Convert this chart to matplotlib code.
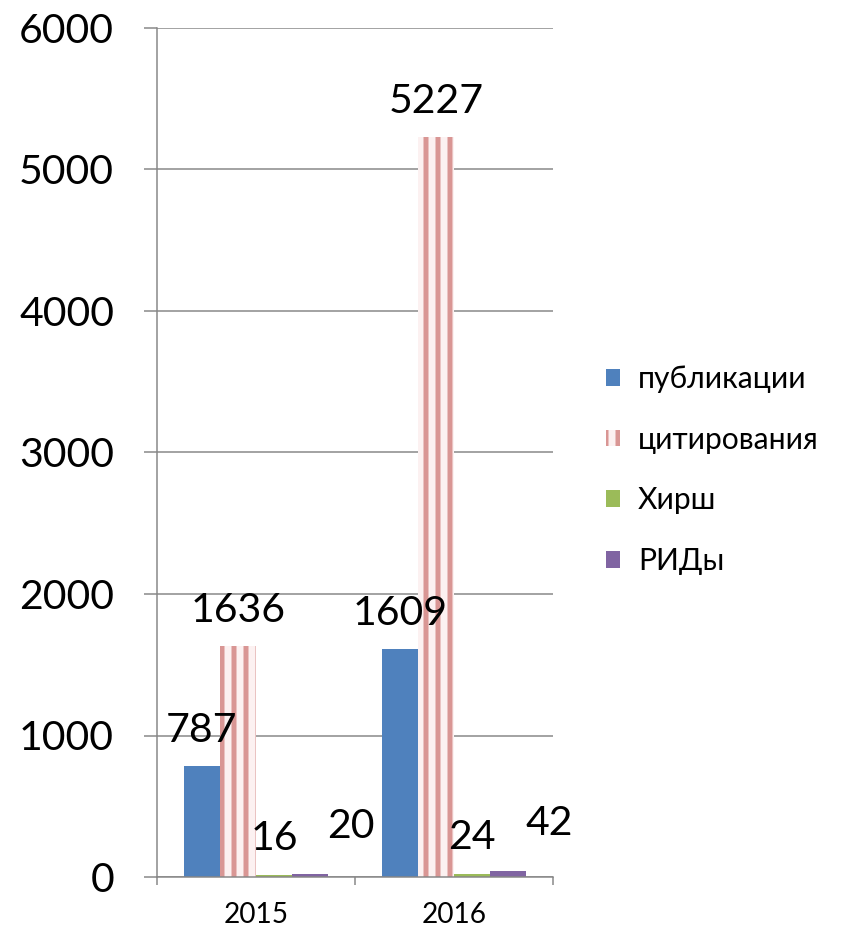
import numpy as np
import matplotlib
matplotlib.use('Agg')
import matplotlib.pyplot as plt

plt.rcParams['font.family'] = ['Lato', 'DejaVu Sans']
plt.rcParams['hatch.linewidth'] = 5

years = ['2015', '2016']
series = ['публикации', 'цитирования', 'Хирш', 'РИДы']
publications = [787, 1609]
citations = [1636, 5227]
hirsch = [16, 24]
rids = [20, 42]

colors = ['#4F81BD', '#D99694', '#9BBB59', '#8064A2']
# сдвиг подписей (px) - как у Excel
label_dx = [0, 0, 0, 41]
label_dy = [24, 24, 25, 36]

# dpi=72 -> 1 pt = 1 px
fig = plt.figure(figsize=(850 / 72, 930 / 72), dpi=72)
ax = fig.add_axes([157 / 850, 53 / 930, 396 / 850, 849 / 930])

x = np.arange(len(years))
w = 0.182
values = [publications, citations, hirsch, rids]
for i, (name, vals) in enumerate(zip(series, values)):
    pos = x + (i - 1.5) * w
    if i == 1:
        bars = ax.bar(pos, vals, w, facecolor='#FCF1F1', edgecolor=colors[i],
                      linewidth=0, hatch='|', label=name, zorder=2)
    else:
        bars = ax.bar(pos, vals, w, color=colors[i], linewidth=0, label=name, zorder=2)
    for b, v in zip(bars, vals):
        ax.annotate(str(v), (b.get_x() + b.get_width() / 2, v),
                    xytext=(label_dx[i], label_dy[i]), textcoords='offset points',
                    ha='center', va='baseline', fontsize=41, zorder=5)

ax.set_ylim(0, 6000)
ax.set_xlim(-0.5, 1.5)
ax.set_yticks(range(0, 6001, 1000))
ax.set_xticks([-0.5, 0.5, 1.5])
ax.set_xticklabels([])
ax.set_xticks(x, minor=True)
ax.set_xticklabels(years, minor=True, fontsize=28)
ax.tick_params(axis='x', which='minor', length=0, pad=25)
ax.tick_params(axis='x', which='major', length=8, width=1.5, color='#868686')
ax.tick_params(axis='y', length=13, width=1.5, color='#868686', labelsize=41, pad=30)

ax.yaxis.grid(True, color='#868686', linewidth=1.5, zorder=0)
ax.set_axisbelow(True)
for s in ['top', 'right']:
    ax.spines[s].set_visible(False)
for s in ['left', 'bottom']:
    ax.spines[s].set_color('#868686')
    ax.spines[s].set_linewidth(1.5)

fig.legend(loc='upper left', bbox_to_anchor=(606 / 850, 1 - 365 / 930),
           frameon=False, fontsize=30, handlelength=0.47, handleheight=0.47,
           handletextpad=0.6, labelspacing=1.09, borderpad=0, borderaxespad=0)

fig.savefig('out.png', dpi=72)
